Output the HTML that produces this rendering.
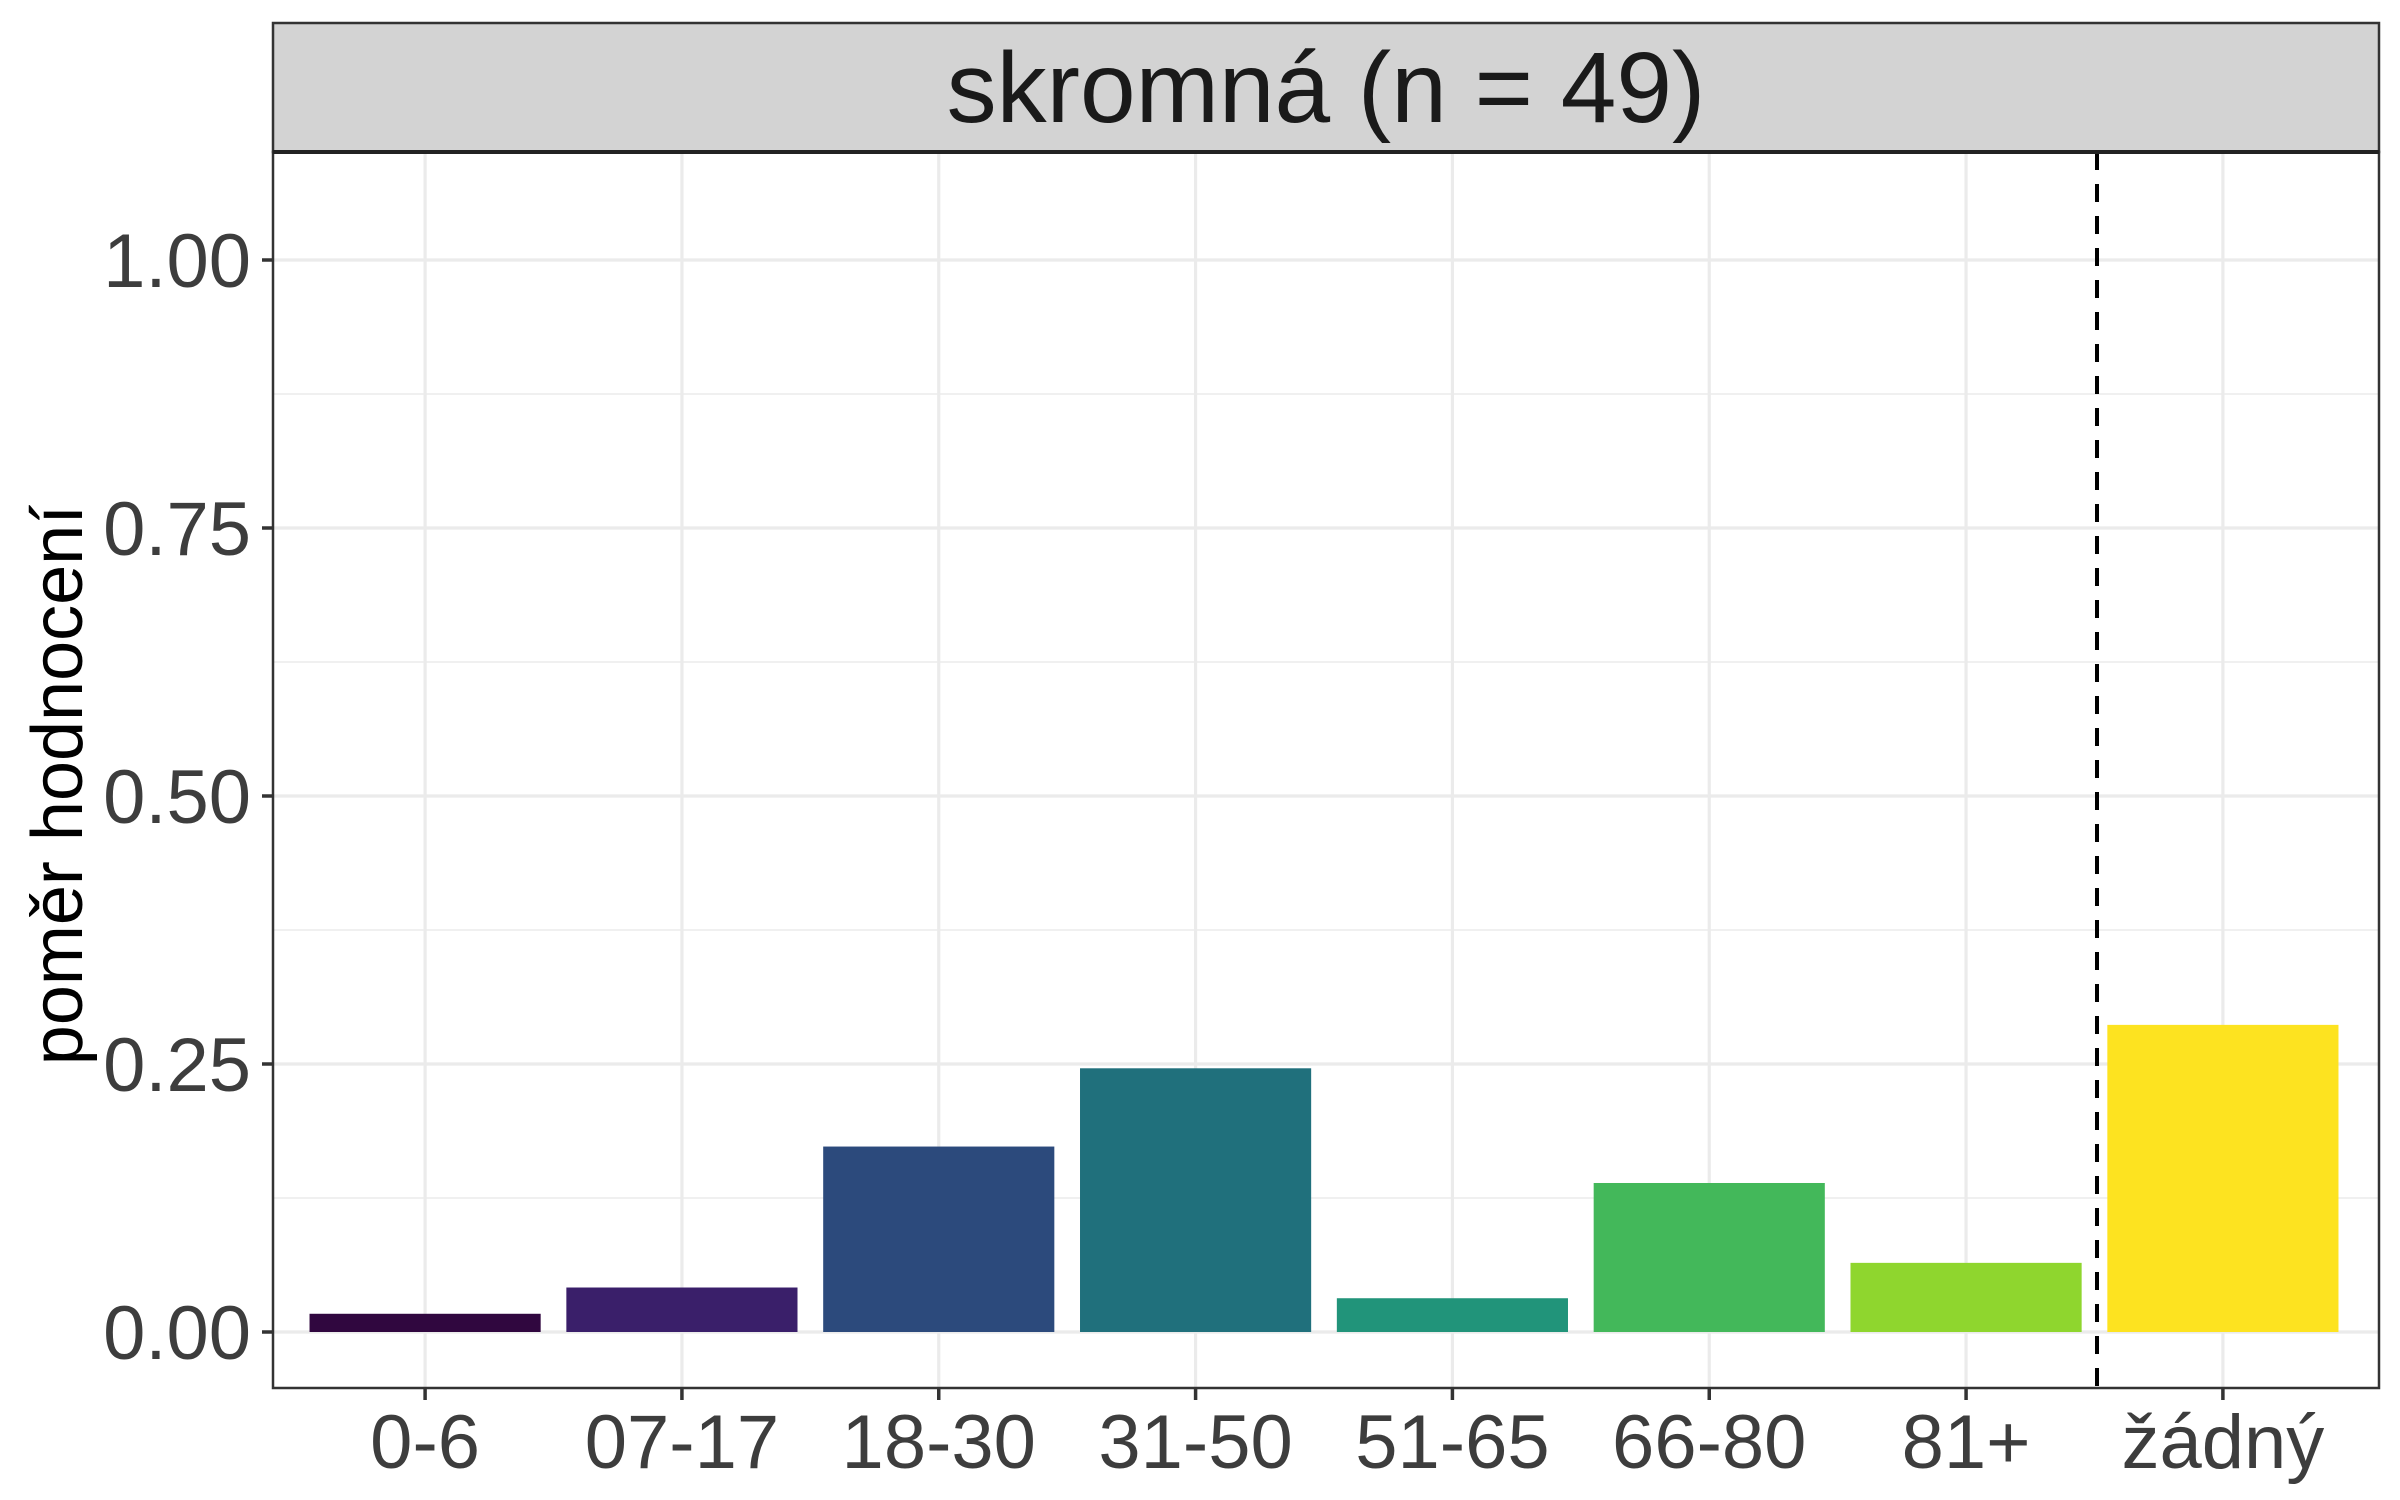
<!DOCTYPE html>
<html><head><meta charset="utf-8"><style>
body{margin:0;background:#fff}
svg{display:block;font-family:"Liberation Sans",Arial,sans-serif}
</style></head><body>
<svg id="chart" width="2400" height="1500" viewBox="0 0 2400 1500">
<g id="grid"></g>
<g id="bars"></g>
<line x1="2097" x2="2097" y1="152" y2="1388" stroke="#000" stroke-width="4" stroke-dasharray="18,14"/>
<rect x="273" y="152" width="2106" height="1236" fill="none" stroke="#333" stroke-width="2.5"/>
<rect x="273" y="23" width="2106" height="129" fill="#d3d3d3" stroke="#333" stroke-width="2.5"/>
<line x1="273" x2="2379" y1="152" y2="152" stroke="#222" stroke-width="4"/>
<text x="1326" y="122" text-anchor="middle" font-size="100" fill="#1a1a1a">skromná (n = 49)</text>
<g id="yaxis"></g>
<g id="xaxis"></g>
<text transform="translate(82,785) rotate(-90)" text-anchor="middle" font-size="72" fill="#000">poměr hodnocení</text>
</svg>
<script>
const categories=["0-6","07-17","18-30","31-50","51-65","66-80","81+","žádný"];
const values=[0.017,0.0415,0.173,0.246,0.0315,0.139,0.0645,0.2865];
const colors=["#30073f","#3a1f6a","#2c4a7c","#20707c","#21947a","#43b85a","#8fd62e","#fde320"];
const yTicks=[0,0.25,0.5,0.75,1];
const yTickLabels=["0.00","0.25","0.50","0.75","1.00"];
const NS="http://www.w3.org/2000/svg";
const x0=273,x1=2379,yTop=260,yZero=1332;
function y(v){return yZero-(yZero-yTop)*v;}
const step=(x1-x0)/(categories.length+0.2);
function xc(i){return x0+step*(0.6+i)-2;}
const bw=step*0.9;
function mk(t,a,p){const e=document.createElementNS(NS,t);for(const k in a)e.setAttribute(k,a[k]);p.appendChild(e);return e;}
const grid=document.getElementById('grid'),bars=document.getElementById('bars'),ya=document.getElementById('yaxis'),xa=document.getElementById('xaxis');
for(let i=0;i<yTicks.length;i++){
 const g=mk('line',{x1:x0,x2:x1,y1:y(yTicks[i]),y2:y(yTicks[i]),stroke:'#ebebeb','stroke-width':3.2},grid);
 
 
 if(i<yTicks.length-1){const m=mk('line',{x1:x0,x2:x1,y1:y(yTicks[i]+0.125),y2:y(yTicks[i]+0.125),stroke:'#ebebeb','stroke-width':1.6},grid);
 
 }
 const t=mk('line',{x1:x0-11,x2:x0,y1:y(yTicks[i]),y2:y(yTicks[i]),stroke:'#333','stroke-width':3.5},ya);
 
 
 const l=mk('text',{x:x0-22,y:y(yTicks[i])+27,'text-anchor':'end','font-size':76,fill:'#3d3d3d'},ya);
 l.textContent=yTickLabels[i];
 
 
}
categories.forEach((c,i)=>{
 const g=mk('line',{x1:xc(i),x2:xc(i),y1:152,y2:1388,stroke:'#ebebeb','stroke-width':3.2},grid);
 
 
 const r=mk('rect',{x:xc(i)-bw/2,y:y(values[i]),width:bw,height:yZero-y(values[i]),fill:colors[i]},bars);
 
 
 const t=mk('line',{x1:xc(i),x2:xc(i),y1:1388,y2:1400,stroke:'#333','stroke-width':3.5},xa);
 
 
 const l=mk('text',{x:xc(i),y:1468,'text-anchor':'middle','font-size':76,fill:'#3d3d3d'},xa);
 l.textContent=c;
 
 
});
</script>
</body></html>
